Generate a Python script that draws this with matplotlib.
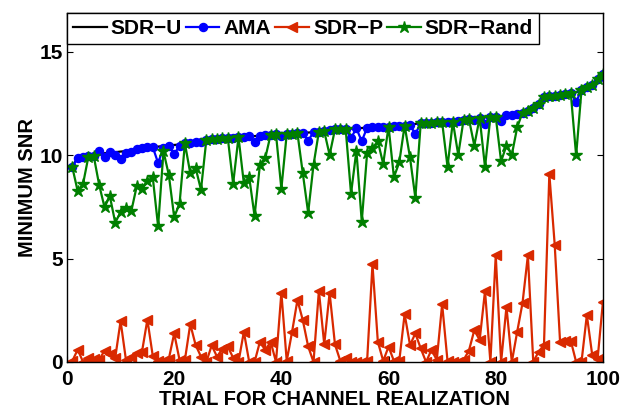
import matplotlib
matplotlib.use("Agg")
import matplotlib.pyplot as plt

plt.rcParams["font.family"] = ["Liberation Sans", "DejaVu Sans"]
plt.rcParams["font.weight"] = "bold"

trials = list(range(1, 101))

sdr_u = [
    9.45, 9.90, 9.92, 9.95, 9.97, 10.05, 10.10, 10.12, 10.15, 10.18,
    10.20, 10.22, 10.30, 10.35, 10.38, 10.40, 10.42, 10.45, 10.47, 10.50,
    10.52, 10.58, 10.60, 10.62, 10.65, 10.74, 10.77, 10.80, 10.82, 10.85,
    10.86, 10.88, 10.90, 10.92, 10.93, 10.95, 10.97, 11.00, 11.01, 11.02,
    11.03, 11.05, 11.07, 11.09, 11.10, 11.12, 11.14, 11.16, 11.20, 11.25,
    11.26, 11.27, 11.29, 11.30, 11.32, 11.34, 11.35, 11.36, 11.38, 11.39,
    11.41, 11.42, 11.44, 11.46, 11.52, 11.55, 11.57, 11.58, 11.59, 11.60,
    11.62, 11.63, 11.66, 11.72, 11.75, 11.78, 11.82, 11.84, 11.85, 11.86,
    11.88, 11.90, 11.93, 12.00, 12.07, 12.16, 12.27, 12.48, 12.80, 12.85,
    12.88, 12.93, 12.96, 13.01, 13.05, 13.15, 13.28, 13.39, 13.68, 13.95,
]

ama = [
    9.45, 9.87, 9.92, 9.95, 9.97, 10.19, 9.90, 10.15, 9.99, 9.80,
    10.10, 10.15, 10.30, 10.35, 10.38, 10.40, 9.63, 10.35, 10.47, 10.07,
    10.45, 10.58, 10.60, 10.62, 10.65, 10.74, 10.77, 10.80, 10.82, 10.85,
    10.86, 10.88, 10.90, 10.92, 10.66, 10.95, 10.97, 11.00, 11.01, 10.95,
    11.03, 11.05, 11.07, 11.09, 10.71, 11.12, 11.14, 11.16, 11.20, 11.25,
    11.26, 11.27, 10.84, 11.30, 10.68, 11.34, 11.35, 11.36, 11.38, 11.39,
    11.41, 11.42, 11.44, 11.46, 11.03, 11.55, 11.57, 11.58, 11.59, 11.60,
    11.62, 11.63, 11.66, 11.72, 11.75, 11.70, 11.82, 11.51, 11.85, 11.86,
    11.67, 11.95, 11.93, 12.00, 12.07, 12.16, 12.27, 12.48, 12.80, 12.85,
    12.88, 12.93, 12.96, 13.01, 12.60, 13.15, 13.28, 13.39, 13.68, 13.95,
]

sdr_p = [
    0.05, 0.60, 0.00, 0.20, 0.15, 0.10, 0.55, 0.40, 0.20, 1.98,
    0.10, 0.25, 0.45, 0.50, 2.05, 0.30, 0.05, 0.05, 0.15, 1.38,
    0.10, 0.10, 1.83, 0.82, 0.26, 0.00, 0.80, 0.25, 0.65, 0.75,
    0.20, 0.00, 1.46, 0.00, 0.00, 0.98, 0.57, 0.98, 0.00, 3.35,
    0.05, 1.46, 3.00, 2.02, 0.75, 0.00, 3.44, 0.85, 3.35, 0.85,
    0.05, 0.20, 0.00, 0.00, 0.00, 0.05, 4.72, 0.98, 0.05, 0.74,
    0.05, 0.05, 2.32, 0.82, 1.38, 0.66, 0.00, 0.58, 0.10, 2.80,
    0.05, 0.00, 0.00, 0.10, 0.55, 1.54, 1.06, 3.44, 0.00, 5.16,
    0.00, 2.67, 0.00, 1.46, 2.86, 5.16, 0.00, 0.50, 0.82, 9.10,
    5.68, 0.98, 1.00, 1.03, 0.00, 0.00, 2.27, 0.34, 0.13, 2.91,
]

sdr_rand = [
    9.42, 8.26, 8.62, 9.94, 9.95, 8.57, 7.49, 8.02, 6.74, 7.25,
    7.46, 7.30, 8.49, 8.38, 8.75, 8.94, 6.56, 10.19, 9.05, 7.01,
    7.65, 10.58, 9.13, 9.39, 8.33, 10.74, 10.77, 10.80, 10.82, 10.85,
    8.62, 10.88, 8.65, 8.94, 7.06, 9.55, 9.87, 11.00, 11.01, 8.38,
    11.03, 11.05, 11.07, 9.13, 7.22, 9.54, 11.14, 11.16, 10.02, 11.25,
    11.26, 11.27, 8.14, 10.23, 6.79, 10.11, 10.35, 10.68, 9.58, 11.39,
    8.94, 9.66, 11.44, 9.90, 7.94, 11.55, 11.57, 11.58, 11.59, 11.60,
    9.45, 11.63, 10.02, 11.72, 11.75, 10.47, 11.82, 9.42, 11.85, 11.86,
    9.71, 10.47, 10.02, 11.35, 12.07, 12.16, 12.27, 12.48, 12.80, 12.85,
    12.88, 12.93, 12.96, 13.01, 9.99, 13.15, 13.28, 13.39, 13.68, 13.95,
]

assert len(sdr_u) == len(ama) == len(sdr_p) == len(sdr_rand) == 100

fig = plt.figure(figsize=(6.32, 4.09), dpi=100)
ax = fig.add_axes([0.106, 0.115, 0.848, 0.854])

lw = 1.6
ax.plot(trials, sdr_u, color="black", linewidth=lw, label="SDR\u2212U")
ax.plot(trials, ama, color="#0000ff", linewidth=lw, marker="o",
        markersize=5.8, label="AMA")
ax.plot(trials, sdr_p, color="#d92900", linewidth=lw, marker="<",
        markersize=6.8, label="SDR\u2212P")
ax.plot(trials, sdr_rand, color="#007f00", linewidth=lw, marker="*",
        markersize=9, label="SDR\u2212Rand")

ax.set_xlim(0, 100)
ax.set_ylim(0, 16.9)
ax.set_xticks([0, 20, 40, 60, 80, 100])
ax.set_yticks([0, 5, 10, 15])
ax.tick_params(direction="in", length=4, width=0.8, top=True, right=True,
               labelsize=15)
ax.tick_params(axis="x", pad=6)
ax.tick_params(axis="y", pad=3)
for lab in ax.get_xticklabels() + ax.get_yticklabels():
    lab.set_fontweight("bold")
for sp in ax.spines.values():
    sp.set_linewidth(1.0)

ax.set_xlabel("TRIAL FOR CHANNEL REALIZATION", fontsize=14.5,
              fontweight="bold", labelpad=0.5)
ax.set_ylabel("MINIMUM SNR", fontsize=14.5, fontweight="bold", labelpad=2)

leg = ax.legend(loc="upper left", bbox_to_anchor=(0.0, 1.0), ncol=4,
                frameon=True, fancybox=False, borderaxespad=0.0,
                handlelength=1.6, handletextpad=0.2,
                columnspacing=0.2, borderpad=0.3,
                prop={"weight": "bold", "size": 15})
leg.get_frame().set_edgecolor("black")
leg.get_frame().set_linewidth(1.0)
leg.get_frame().set_alpha(1.0)

fig.savefig("out.png", dpi=100)
